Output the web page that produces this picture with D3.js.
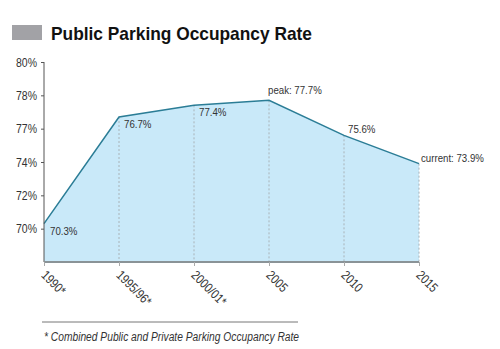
<!DOCTYPE html>
<html><head><meta charset="utf-8">
<script src="https://cdn.jsdelivr.net/npm/d3@7"></script>
<style>
body{margin:0;background:#fff;}
svg{display:block;}
text{font-family:"Liberation Sans",Arial,sans-serif;}
</style></head>
<body>
<svg id="c" width="500" height="349"></svg>
<script>
const categories = ["1990*", "1995/96*", "2000/01*", "2005", "2010", "2015"];
const values = [70.3, 76.7, 77.4, 77.7, 75.6, 73.9];
const pointLabels = ["70.3%", "76.7%", "77.4%", "peak: 77.7%", "75.6%", "current: 73.9%"];
const yTickValues = [70, 72, 74, 76, 78, 80];
const yTickText = ["70%", "72%", "74%", "77%", "78%", "80%"];
const title = "Public Parking Occupancy Rate";
const footnote = "* Combined Public and Private Parking Occupancy Rate";

const SX = 0.82; // narrow glyph scale
const svg = d3.select("#c");
const x = d3.scalePoint().domain(categories).range([44, 419]);
const y = d3.scaleLinear().domain([68, 80]).range([262, 62]);

// title
svg.append("rect").attr("x", 12).attr("y", 25).attr("width", 30).attr("height", 15).attr("fill", "#a2a2a6");
svg.append("text").attr("x", 51).attr("y", 40)
  .attr("font-weight", "bold").attr("font-size", 18.5).attr("fill", "#111")
  .attr("textLength", 261).attr("lengthAdjust", "spacingAndGlyphs").text(title);

const data = categories.map((c, i) => ({c, v: values[i], label: pointLabels[i]}));

// area
const area = d3.area().x(d => x(d.c)).y0(y(68)).y1(d => y(d.v));
svg.append("path").datum(data).attr("d", area).attr("fill", "#c9e9f9");

// dashed drop lines
svg.selectAll(".drop").data(data.slice(1)).enter().append("line")
  .attr("x1", d => x(d.c)).attr("x2", d => x(d.c))
  .attr("y1", d => y(d.v)).attr("y2", y(68))
  .attr("stroke", "#a9b3b8").attr("stroke-width", 1).attr("stroke-dasharray", "2,2");

// line
const line = d3.line().x(d => x(d.c)).y(d => y(d.v));
svg.append("path").datum(data).attr("d", line).attr("fill", "none")
  .attr("stroke", "#2b7d96").attr("stroke-width", 1.5);

// y axis
const yAxis = d3.axisLeft(y).tickValues(yTickValues).tickSize(3).tickPadding(4)
  .tickFormat((d, i) => yTickText[i]);
const ga = svg.append("g").attr("transform", "translate(44,0)").call(yAxis);
ga.select(".domain").attr("d", `M0,${y(80)}V${y(68)}`).attr("stroke", "#555");
ga.selectAll(".tick line").attr("stroke", "#555");
ga.selectAll(".tick text").attr("x", 0).attr("transform", `translate(-7,0) scale(${SX},1)`)
  .attr("font-family", "Liberation Sans, Arial, sans-serif")
  .attr("font-size", 12.8).attr("fill", "#333");

// x axis
const xAxis = d3.axisBottom(x).tickSize(4).tickPadding(0);
const gx = svg.append("g").attr("transform", `translate(0,${y(68)})`).call(xAxis);
gx.select(".domain").attr("d", `M${x(categories[0])},0H${x(categories[5])}`).attr("stroke", "#8a9397").attr("stroke-width", 2);
gx.selectAll(".tick line").attr("stroke", "#aaa");
gx.selectAll(".tick text").attr("font-family", "Liberation Sans, Arial, sans-serif")
  .attr("font-size", 13.2).attr("fill", "#333")
  .attr("text-anchor", "start").attr("dy", null).attr("y", 0)
  .attr("transform", `translate(-4,14) rotate(45) scale(${SX},1)`);

// point labels
const place = [
  {dx: 6, dy: 11}, {dx: 5, dy: 11}, {dx: 5, dy: 11},
  {dx: -1, dy: -6}, {dx: 4, dy: -2}, {dx: 2, dy: -2}
];
svg.selectAll(".pl").data(data).enter().append("text")
  .attr("transform", (d, i) => `translate(${x(d.c) + place[i].dx},${y(d.v) + place[i].dy}) scale(${SX},1)`)
  .attr("font-size", 11.8).attr("fill", "#333").text(d => d.label);

// footnote
svg.append("line").attr("x1", 42).attr("x2", 298).attr("y1", 322).attr("y2", 322).attr("stroke", "#777").attr("stroke-width", 1);
svg.append("text").attr("transform", `translate(44,341) scale(${SX},1)`).attr("font-size", 12.5)
  .attr("font-style", "italic").attr("fill", "#333").text(footnote);
</script>
</body></html>
